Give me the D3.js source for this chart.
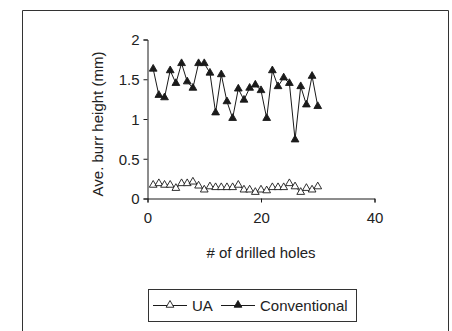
<!DOCTYPE html>
<html>
<head>
<meta charset="utf-8">
<script src="https://cdn.jsdelivr.net/npm/d3@7"></script>
<style>
  body { margin: 0; background: #fff; }
  svg { display: block; font-family: "Liberation Sans", Arial, sans-serif; }
</style>
</head>
<body>
<svg id="chart" width="452" height="331"></svg>
<script>
// hole numbers 1..30
let holes = [1, 2, 3, 4, 5, 6, 7, 8, 9, 10, 11, 12, 13, 14, 15,
             16, 17, 18, 19, 20, 21, 22, 23, 24, 25, 26, 27, 28, 29, 30];
let uaValues = [0.17, 0.19, 0.17, 0.17, 0.13, 0.19, 0.19, 0.21, 0.16, 0.11, 0.15, 0.14, 0.14, 0.14, 0.14,
                0.17, 0.11, 0.11, 0.08, 0.11, 0.10, 0.14, 0.14, 0.14, 0.19, 0.15, 0.08, 0.13, 0.11, 0.15];
let convValues = [1.63, 1.30, 1.27, 1.61, 1.45, 1.70, 1.47, 1.39, 1.70, 1.70, 1.58, 1.08, 1.56, 1.22, 1.01,
                  1.38, 1.24, 1.39, 1.43, 1.36, 1.01, 1.61, 1.41, 1.52, 1.45, 0.74, 1.41, 1.18, 1.54, 1.16];
let xTicks = [0, 20, 40];
let yTicks = [0, 0.5, 1, 1.5, 2];
let seriesNames = ['UA', 'Conventional'];

let svg = d3.select('#chart');
let ink = '#1a1a1a';
let fontSize = '15px';

/* outer frame, bottom runs off the picture */
svg.append('path')
    .attr('d', 'M22.5,340V10.5H448.5V340')
    .attr('fill', 'none')
    .attr('stroke', '#333')
    .attr('stroke-width', 1);

let x = d3.scaleLinear().domain([0, 40]).range([147.5, 374.5]);
let y = d3.scaleLinear().domain([0, 2]).range([198.5, 39.5]);

let xAxis = svg.append('g')
    .attr('transform', `translate(0,${y(0)})`)
    .call(d3.axisBottom(x).tickValues(xTicks).tickSize(4).tickPadding(10).tickFormat(d3.format('d')));
let yAxis = svg.append('g')
    .attr('transform', `translate(${x(0)},0)`)
    .call(d3.axisLeft(y).tickValues(yTicks).tickSize(4).tickPadding(4).tickFormat(d => d));

[xAxis, yAxis].forEach(a => {
    a.select('.domain').attr('stroke', ink);
    a.selectAll('.tick line').attr('stroke', ink);
    a.selectAll('.tick text')
        .attr('fill', '#222')
        .style('font-size', fontSize)
        .style('font-family', '"Liberation Sans", Arial, sans-serif');
});
yAxis.selectAll('.tick text').attr('dy', '0.35em');

svg.append('text')
    .attr('x', 261)
    .attr('y', 258)
    .attr('text-anchor', 'middle')
    .attr('fill', '#222')
    .style('font-size', fontSize)
    .text('# of drilled holes');

svg.append('text')
    .attr('transform', 'translate(103,124) rotate(-90)')
    .attr('text-anchor', 'middle')
    .attr('fill', '#222')
    .style('font-size', fontSize)
    .text('Ave. burr height (mm)');

let line = d3.line()
    .x((d, i) => x(holes[i]))
    .y(d => y(d));

let tri = d3.symbol().type(d3.symbolTriangle).size(26);

function drawSeries(values, fill) {
    svg.append('path')
        .datum(values)
        .attr('d', line)
        .attr('fill', 'none')
        .attr('stroke', ink)
        .attr('stroke-width', 1);
    svg.append('g').selectAll('path')
        .data(values)
        .enter()
        .append('path')
        .attr('d', tri)
        .attr('transform', (d, i) => `translate(${x(holes[i])},${y(d)})`)
        .attr('fill', fill)
        .attr('stroke', ink)
        .attr('stroke-width', 0.9);
}

drawSeries(uaValues, '#fff');
drawSeries(convValues, ink);

/* legend */
let legend = svg.append('g');
legend.append('rect')
    .attr('x', 148.5).attr('y', 289.5)
    .attr('width', 208).attr('height', 32)
    .attr('fill', '#fff')
    .attr('stroke', '#333');

let legendItems = [
    {name: seriesNames[0], x0: 153, fill: '#fff'},
    {name: seriesNames[1], x0: 221, fill: ink}
];
legendItems.forEach(it => {
    legend.append('line')
        .attr('x1', it.x0).attr('x2', it.x0 + 34)
        .attr('y1', 305.5).attr('y2', 305.5)
        .attr('stroke', ink);
    legend.append('path')
        .attr('d', tri)
        .attr('transform', `translate(${it.x0 + 17},305)`)
        .attr('fill', it.fill)
        .attr('stroke', ink)
        .attr('stroke-width', 0.9);
    legend.append('text')
        .attr('x', it.x0 + 39)
        .attr('y', 310.5)
        .attr('fill', '#222')
        .style('font-size', fontSize)
        .text(it.name);
});
</script>
</body>
</html>
